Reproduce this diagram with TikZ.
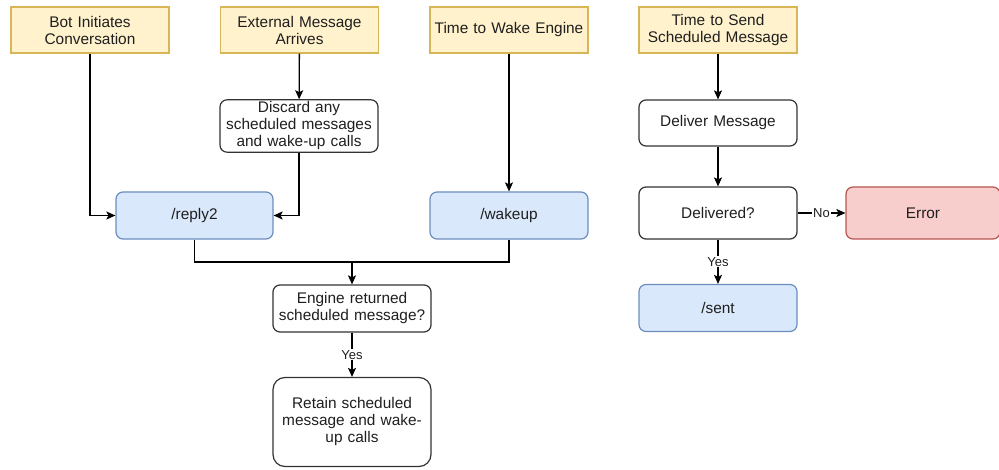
\documentclass[tikz,border=0pt]{standalone}
\usepackage{fontspec}
\setmainfont{Liberation Sans}
\usetikzlibrary{arrows.meta}
\definecolor{trigfill}{HTML}{FFF2CC}
\definecolor{trigline}{HTML}{D6B656}
\definecolor{apifill}{HTML}{DAE8FC}
\definecolor{apiline}{HTML}{6C8EBF}
\definecolor{errfill}{HTML}{F8CECC}
\definecolor{errline}{HTML}{B85450}
\begin{document}
\begin{tikzpicture}[x=1pt,y=-1pt,
  box/.style={draw=black!80, fill=white, rounded corners=7pt, align=center,
    text width=150pt, inner sep=2pt, line width=1.2pt, minimum height=46pt,
    font=\fontsize{15.4}{17}\selectfont, text=black!88},
  trigger/.style={box, rounded corners=0pt, fill=trigfill, draw=trigline},
  api/.style={box, fill=apifill, draw=apiline},
  errbox/.style={box, fill=errfill, draw=errline},
  arr/.style={draw=black, line width=1.3pt, -{Stealth[length=9pt,width=8pt,inset=2pt]}},
  link/.style={draw=black, line width=1.3pt},
  lbl/.style={fill=white, inner sep=1pt, font=\fontsize{13}{14}\selectfont, text=black!88}
]
\useasboundingbox (0,0) rectangle (999,470);

% event triggers
\node[trigger, minimum width=158pt] (bot)  at (90,30)    {Bot Initiates\\Conversation};
\node[trigger, minimum width=158pt] (ext)  at (299.5,30) {External Message\\Arrives};
\node[trigger, minimum width=158pt] (wake) at (509,30)   {Time to Wake Engine};
\node[trigger, minimum width=158pt] (send) at (718,30)   {Time to Send\\Scheduled Message};

% engine flow
\node[box, minimum width=158pt, minimum height=52pt] (discard) at (299,126) {Discard any\\scheduled messages\\and wake-up calls};
\node[api, minimum width=157pt, minimum height=47pt] (reply)  at (194.5,215.5) {/reply2};
\node[api, minimum width=158pt, minimum height=47pt] (wakeup) at (509,215.5) {/wakeup};
\node[box, minimum width=158pt, minimum height=47pt] (engine) at (352,308.5) {Engine returned\\scheduled message?};
\node[box, minimum width=158pt, minimum height=89pt, rounded corners=12pt] (retain) at (352,422) {Retain scheduled\\message and wake-\\up calls};
\coordinate (join) at (352,262);

% delivery flow
\node[box, minimum width=158pt] (deliver) at (718,123) {Deliver Message};
\node[box, minimum width=158pt, minimum height=52pt] (delivered) at (718,213) {Delivered?};
\node[errbox, minimum width=147pt, minimum height=52pt] (error) at (923,213) {Error};
\node[api, minimum width=158pt, minimum height=47pt] (sent) at (718,308) {/sent};

% connectors
\draw[arr] (bot.south) |- (reply.west);
\draw[arr] (ext) -- (discard);
\draw[arr] (discard.south) |- (reply.east);
\draw[arr] (wake) -- (wakeup);
\draw[link] (reply.south) |- (join);
\draw[link] (wakeup.south) |- (join);
\draw[arr] (join) -- (engine.north);
\draw[arr] (engine) -- node[lbl]{Yes} (retain);

\draw[arr] (send) -- (deliver);
\draw[arr] (deliver) -- (delivered);
\draw[arr] (delivered) -- node[lbl, pos=0.5]{No} (error);
\draw[arr] (delivered) -- node[lbl]{Yes} (sent);
\end{tikzpicture}
\end{document}
